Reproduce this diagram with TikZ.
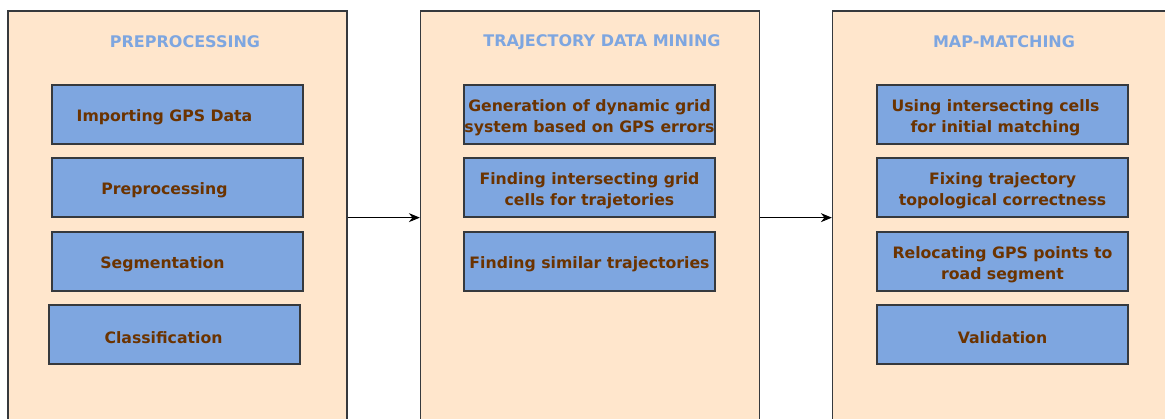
\documentclass[tikz,border=0pt]{standalone}
\usepackage{fontspec}
\setmainfont{DejaVu Sans}
\usetikzlibrary{arrows.meta}
\definecolor{panelfill}{HTML}{FFE6CC}
\definecolor{stepfill}{HTML}{7EA6E0}
\definecolor{steptext}{HTML}{6B3300}
\definecolor{titletext}{HTML}{7EA6E0}
\definecolor{edge}{HTML}{36393D}
\tikzset{
  panel/.style={draw=edge, line width=1.3pt, fill=panelfill, minimum width=339pt, minimum height=420pt, inner sep=0pt},
  title/.style={text=titletext, font=\fontsize{16}{18}\selectfont\bfseries},
  stepbox/.style={draw=edge, line width=1.3pt, fill=stepfill, minimum width=251pt, minimum height=59pt, inner sep=0pt},
  steplabel/.style={yshift=-3pt, inner sep=0pt, text=steptext, align=center,
    font=\fontsize{15.7}{21}\selectfont\bfseries},
  flow/.style={line width=1pt, -{Stealth[length=11pt,width=9pt]}}
}
\begin{document}
\begin{tikzpicture}[x=1pt,y=-1pt]
\useasboundingbox (0,0) rectangle (1165,418);
\clip (0,0) rectangle (1165,418);
\fill[white] (0,0) rectangle (1165,418);

% stage panels
\node[panel] (p1) at (177.5,221) {};
\node[panel] (p2) at (590,221) {};
\node[panel] (p3) at (1002,221) {};

% stage titles
\node[title] (t1) at (185,42) {PREPROCESSING};
\node[title] (t2) at (602,42) {TRAJECTORY DATA MINING};
\node[title] (t3) at (1004,42) {MAP-MATCHING};

% preprocessing steps
\node[stepbox, label={[steplabel,xshift=-13pt]center:Importing GPS Data}] (a1) at (177.5,114.5) {};
\node[stepbox, label={[steplabel,xshift=-13pt]center:Preprocessing}] (a2) at (177.5,187.5) {};
\node[stepbox, label={[steplabel,xshift=-15pt]center:Segmentation}] (a3) at (177.5,261.5) {};
\node[stepbox, label={[steplabel,xshift=-11pt]center:Classification}] (a4) at (174.5,334.5) {};

% trajectory data mining steps
\node[stepbox, label={[steplabel]center:{Generation of dynamic grid\\system based on GPS errors}}] (b1) at (589.5,114.5) {};
\node[stepbox, label={[steplabel]center:{Finding intersecting grid\\cells for trajetories}}] (b2) at (589.5,187.5) {};
\node[stepbox, label={[steplabel]center:Finding similar trajectories}] (b3) at (589.5,261.5) {};

% map-matching steps
\node[stepbox, label={[steplabel,xshift=-7pt]center:{Using intersecting cells\\for initial matching}}] (c1) at (1002.5,114.5) {};
\node[stepbox, label={[steplabel]center:{Fixing trajectory\\topological correctness}}] (c2) at (1002.5,187.5) {};
\node[stepbox, label={[steplabel]center:{Relocating GPS points to\\road segment}}] (c3) at (1002.5,261.5) {};
\node[stepbox, label={[steplabel]center:Validation}] (c4) at (1002.5,334.5) {};

% flow between stages
\draw[flow] (p1.east |- a2.south) -- (p2.west |- a2.south);
\draw[flow] (p2.east |- b2.south) -- (p3.west |- b2.south);
\end{tikzpicture}
\end{document}
